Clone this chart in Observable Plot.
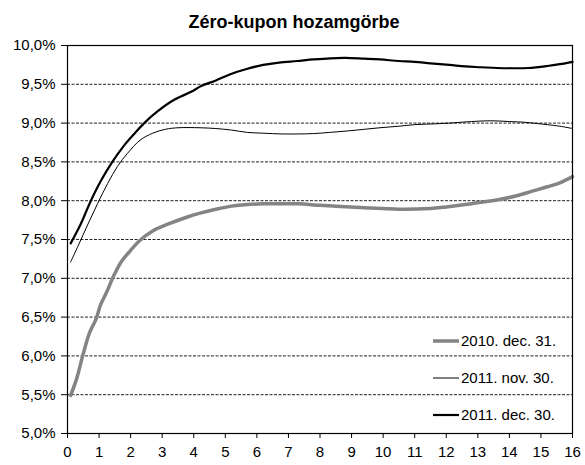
<!DOCTYPE html>
<html>
<head>
<meta charset="utf-8">
<script src="https://cdn.jsdelivr.net/npm/d3@7"></script>
<script src="https://cdn.jsdelivr.net/npm/@observablehq/plot@0.6"></script>
<style>
  html, body { margin: 0; padding: 0; background: #fff; }
  #wrap { position: relative; width: 585px; height: 465px; font-family: "Liberation Sans", Arial, sans-serif; }
  #title { position: absolute; left: 0; top: 10px; width: 588px; text-align: center; font-weight: bold; font-size: 18px; line-height: 24px; color: #000; }
  #legend { position: absolute; left: 433px; top: 322px; font-size: 15px; line-height: 37px; color: #000; }
  #legend div { display: flex; align-items: center; height: 37px; }
  #legend svg { margin-right: 2px; }
</style>
</head>
<body>
<div id="wrap">
  <div id="chart"></div>
  <div id="title">Zéro-kupon hozamgörbe</div>
  <div id="legend"></div>
</div>
<script>
// Series names
const seriesNames = ["2010. dec. 31.", "2011. nov. 30.", "2011. dec. 30."];

// 2010. dec. 31. (thick grey)
const t2010dec = [0.1,0.3,0.5,0.7,0.9,1.05,1.25,1.45,1.7,2.0,2.3,2.7,3.2,3.8,4.2,4.7,5.2,5.7,6.2,6.8,7.3,8.0,8.5,9.4,10,10.5,11.5,12.0,12.6,13.1,13.6,14.2,14.7,15.2,15.6,16];
const y2010dec = [5.49,5.72,6.03,6.30,6.47,6.66,6.83,7.02,7.21,7.36,7.49,7.61,7.70,7.79,7.84,7.89,7.93,7.95,7.96,7.96,7.96,7.94,7.93,7.91,7.90,7.89,7.90,7.92,7.95,7.98,8.01,8.06,8.12,8.18,8.23,8.31];

// 2011. nov. 30. (thin black)
const t2011nov = [0.1,0.35,0.65,0.95,1.27,1.58,1.9,2.3,2.7,3.1,3.5,4.2,4.7,5.2,5.7,6.2,6.8,7.3,7.8,8.3,8.9,9.4,9.9,10.5,11.0,11.6,12.1,12.8,13.4,14.0,14.5,15.2,15.6,16];
const y2011nov = [7.21,7.43,7.70,7.96,8.22,8.44,8.61,8.78,8.87,8.92,8.94,8.94,8.93,8.91,8.88,8.87,8.86,8.86,8.865,8.88,8.90,8.92,8.94,8.96,8.98,8.99,9.00,9.02,9.03,9.02,9.01,8.98,8.96,8.93];

// 2011. dec. 30. (thick black)
const t2011dec = [0.1,0.42,0.73,1.05,1.42,1.79,2.11,2.43,2.85,3.38,3.9,4.25,4.7,5.16,5.7,6.2,6.7,7.27,7.8,8.33,8.8,9.4,9.9,10.5,11.0,11.5,12.1,12.6,13.1,13.6,14.1,14.6,15.2,15.6,16];
const y2011dec = [7.45,7.70,7.99,8.25,8.50,8.71,8.86,9.00,9.15,9.30,9.40,9.48,9.55,9.63,9.70,9.75,9.78,9.80,9.82,9.835,9.84,9.83,9.82,9.80,9.79,9.77,9.75,9.73,9.72,9.71,9.707,9.71,9.736,9.76,9.79];

// Axis ticks
const xTicks = d3.range(0, 17);
const yTicks = [5.0,5.5,6.0,6.5,7.0,7.5,8.0,8.5,9.0,9.5,10.0];
const gridValues = [5.5,6.0,6.5,7.0,7.5,8.0,8.5,9.0,9.5];

const styles = [
  {stroke: "#848484", strokeWidth: 3.5},
  {stroke: "#000", strokeWidth: 1},
  {stroke: "#000", strokeWidth: 2.2}
];

const toRows = (ts, ys) => ts.map((t, i) => ({t, y: ys[i]}));
const rows = [toRows(t2010dec, y2010dec), toRows(t2011nov, y2011nov), toRows(t2011dec, y2011dec)];

const chart = Plot.plot({
  width: 585,
  height: 465,
  marginLeft: 67,
  marginRight: 13,
  marginTop: 45,
  marginBottom: 32,
  style: {fontFamily: "'Liberation Sans', Arial, sans-serif", fontSize: "15px", color: "#000", background: "transparent"},
  x: {domain: [0, 16], ticks: xTicks, tickSize: 5, tickPadding: 8, label: null},
  y: {domain: [5, 10], ticks: yTicks, tickSize: 6, tickPadding: 6, label: null,
      tickFormat: d => d.toFixed(1).replace(".", ",") + "%"},
  marks: [
    Plot.ruleY(gridValues, {stroke: "#222", strokeWidth: 1, strokeDasharray: "3,1.5"}),
    ...rows.map((r, i) => Plot.line(r, {x: "t", y: "y", curve: "catmull-rom", ...styles[i]})),
    Plot.frame({stroke: "#000", strokeWidth: 1.2})
  ]
});
document.getElementById("chart").appendChild(chart);

// Legend
const legend = document.getElementById("legend");
seriesNames.forEach((name, i) => {
  const row = document.createElement("div");
  row.innerHTML = `<svg width="26" height="6"><line x1="0" x2="26" y1="3" y2="3" stroke="${styles[i].stroke}" stroke-width="${styles[i].strokeWidth}"/></svg><span>${name}</span>`;
  legend.appendChild(row);
});
</script>
</body>
</html>
